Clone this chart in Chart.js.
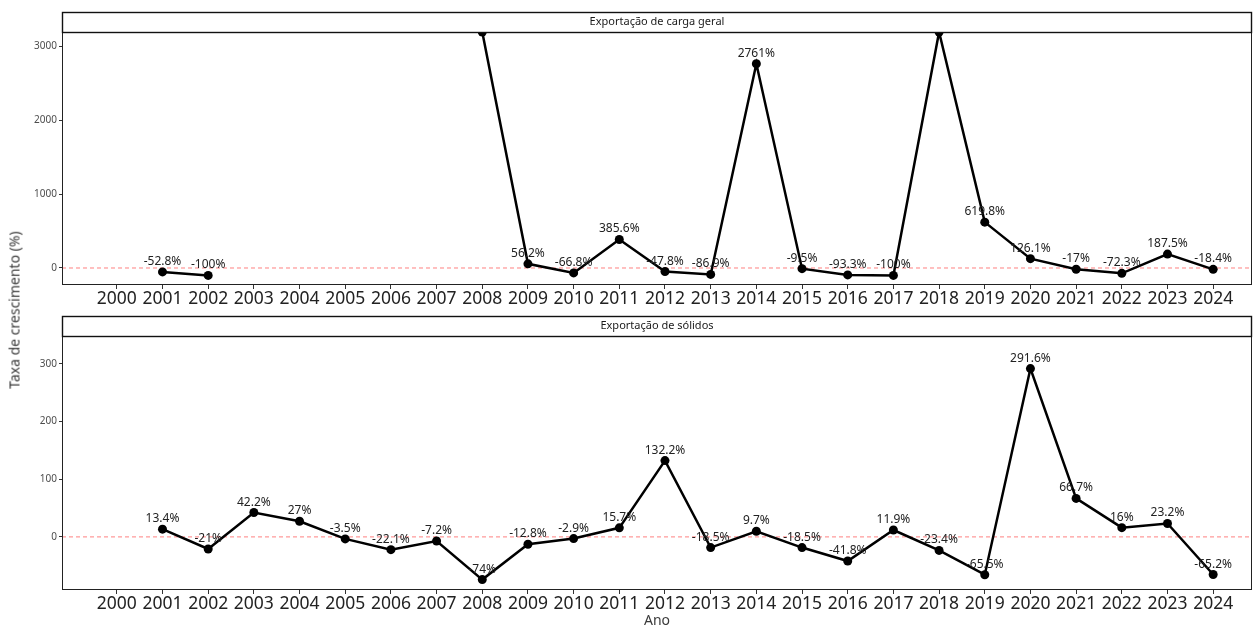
<!DOCTYPE html>
<html>
<head>
<meta charset="utf-8">
<script src="https://cdn.jsdelivr.net/npm/chart.js@4"></script>
<style>
  body { margin: 0; background: #fff; width: 1258px; height: 626px; overflow: hidden; position: relative; }
  canvas { position: absolute; left: 0; }
  #topChart { top: 0; }
  #bottomChart { top: 310px; }
  #yTitle {
    position: absolute; left: 14px; top: 310px;
    transform: translate(-50%, -50%) rotate(-90deg);
    white-space: nowrap; font: normal 400 14px "Noto Sans"; color: #3a3a3a;
  }
</style>
</head>
<body>
<canvas id="topChart" width="1258" height="310"></canvas>
<canvas id="bottomChart" width="1258" height="316"></canvas>
<div id="yTitle">Taxa de crescimento (%)</div>
<script>
const years = [2000, 2001, 2002, 2003, 2004, 2005, 2006, 2007, 2008, 2009, 2010, 2011, 2012,
  2013, 2014, 2015, 2016, 2017, 2018, 2019, 2020, 2021, 2022, 2023, 2024];

// growth rates (%), null = no value for that year
const cargaGeral = [null, -52.8, -100, null, null, null, null, null, 3190, 56.2, -66.8, 385.6, -47.8,
  -86.9, 2761, -9.5, -93.3, -100, 3190, 619.8, 126.1, -17, -72.3, 187.5, -18.4];
const solidos = [null, 13.4, -21, 42.2, 27, -3.5, -22.1, -7.2, -74, -12.8, -2.9, 15.7, 132.2,
  -18.5, 9.7, -18.5, -41.8, 11.9, -23.4, -65.5, 291.6, 66.7, 16, 23.2, -65.2];

const ticksCarga = [0, 1000, 2000, 3000];
const ticksSolidos = [0, 100, 200, 300];

Chart.defaults.font.family = 'Noto Sans';
Chart.defaults.color = '#222';

// zero reference line, value labels, panel border and facet strip
const panelPlugin = {
  id: 'panel',
  beforeDatasetsDraw(chart) {
    const { ctx, chartArea: a, scales } = chart;
    const y0 = scales.y.getPixelForValue(0);
    ctx.save();
    ctx.strokeStyle = '#ff8080';
    ctx.lineWidth = 1;
    ctx.setLineDash([4, 3]);
    ctx.beginPath();
    ctx.moveTo(a.left, y0);
    ctx.lineTo(a.right, y0);
    ctx.stroke();
    ctx.restore();
  },
  afterDatasetsDraw(chart, args, opts) {
    const { ctx, chartArea: a } = chart;
    const meta = chart.getDatasetMeta(0);
    const values = chart.data.datasets[0].data;

    ctx.save();
    ctx.beginPath();
    ctx.rect(a.left, a.top, a.right - a.left, a.bottom - a.top);
    ctx.clip();
    ctx.font = '12px "Noto Sans"';
    ctx.fillStyle = '#222';
    ctx.textAlign = 'center';
    ctx.textBaseline = 'alphabetic';
    meta.data.forEach((pt, i) => {
      const v = values[i].y;
      if (v === null) return;
      ctx.fillText(v + '%', pt.x, pt.y - 7);
    });
    ctx.restore();

    ctx.save();
    ctx.strokeStyle = '#222';
    ctx.lineWidth = 1;
    ctx.strokeRect(a.left + 0.5, a.top + 0.5, a.right - a.left - 1, a.bottom - a.top - 1);

    const h = 20;
    ctx.fillStyle = '#fff';
    ctx.fillRect(a.left, a.top - h, a.right - a.left, h);
    ctx.strokeStyle = '#111';
    ctx.lineWidth = 1.4;
    ctx.strokeRect(a.left + 0.5, a.top - h + 0.5, a.right - a.left - 1, h);
    ctx.fillStyle = '#1a1a1a';
    ctx.font = '11px "Noto Sans"';
    ctx.textAlign = 'center';
    ctx.textBaseline = 'middle';
    ctx.fillText(opts.strip, (a.left + a.right) / 2, a.top - h / 2);
    ctx.restore();
  }
};

function makePanel(id, values, yMin, yMax, yTicks, strip, padTop, axisHeight, showXTitle) {
  return new Chart(document.getElementById(id), {
    type: 'line',
    data: {
      datasets: [{
        data: years.map((yr, i) => ({ x: yr, y: values[i] })),
        borderColor: '#000',
        borderWidth: 2.5,
        pointRadius: 4.5,
        pointBackgroundColor: '#000',
        pointBorderWidth: 0,
        tension: 0,
        spanGaps: false
      }]
    },
    options: {
      responsive: false,
      animation: false,
      events: [],
      layout: { padding: { top: padTop, right: 6, left: 0, bottom: 0 } },
      plugins: {
        legend: { display: false },
        tooltip: { enabled: false },
        panel: { strip: strip }
      },
      scales: {
        x: {
          type: 'linear',
          min: 1998.8,
          max: 2024.85,
          afterBuildTicks: s => { s.ticks = years.map(v => ({ value: v })); },
          afterFit: s => { s.height = axisHeight; },
          ticks: { callback: v => String(v), font: { size: 17.5 }, color: '#222', padding: 0, maxRotation: 0, autoSkip: false },
          grid: { drawOnChartArea: false, drawTicks: true, tickLength: 4, color: '#333' },
          border: { display: false },
          title: { display: showXTitle, text: 'Ano', font: { size: 14 }, color: '#3a3a3a', padding: { top: 0, bottom: -3 } }
        },
        y: {
          min: yMin,
          max: yMax,
          afterBuildTicks: s => { s.ticks = yTicks.map(v => ({ value: v })); },
          afterFit: s => { s.width = 62; },
          ticks: { callback: v => String(v), font: { size: 10 }, color: '#4d4d4d', padding: 2 },
          grid: { drawOnChartArea: false, drawTicks: true, tickLength: 3, color: '#333' },
          border: { display: false }
        }
      }
    },
    plugins: [panelPlugin]
  });
}

makePanel('topChart', cargaGeral, -230, 3190, ticksCarga, 'Exportação de carga geral', 32, 25, false);
makePanel('bottomChart', solidos, -92, 348, ticksSolidos, 'Exportação de sólidos', 26, 36, true);
</script>
</body>
</html>
